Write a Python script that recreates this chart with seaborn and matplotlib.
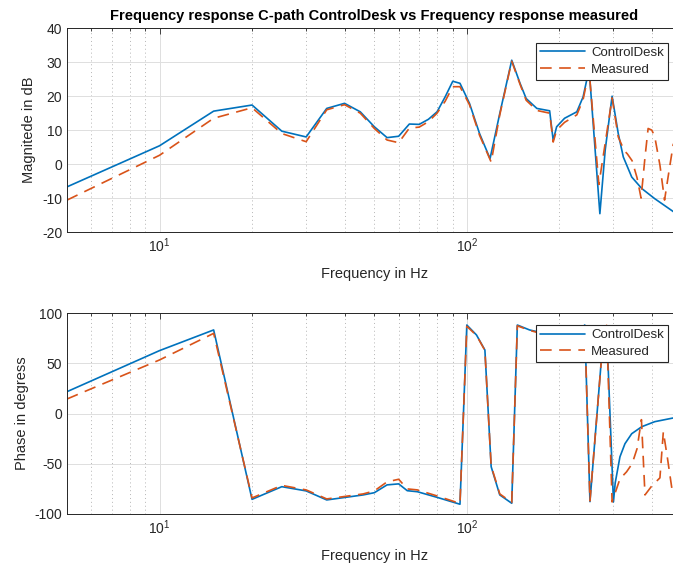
import numpy as np
import pandas as pd
import seaborn as sns
import matplotlib.pyplot as plt
from matplotlib.ticker import LogLocator, NullFormatter, FixedLocator

# values (frequency in Hz)
freq_cd_mag = [5, 10, 15, 20, 25, 30, 35, 40, 45, 50, 55, 60, 65, 70, 75, 80, 85, 90, 95,
               102, 110, 119, 128, 140, 149, 156, 169, 186, 191, 196, 208, 228, 239, 250,
               271, 282, 297, 311, 323, 344, 371, 409, 470]
mag_cd = [-6.7, 5.4, 15.6, 17.4, 9.7, 8.0, 16.4, 17.9, 15.4, 11.0, 7.8, 8.2, 11.8, 11.7, 13.2,
          15.4, 19.8, 24.4, 23.8, 17.9, 9.0, 1.6, 14.9, 30.6, 23.8, 19.3, 16.4, 15.7, 7.0,
          11.0, 13.5, 15.4, 19.8, 28.0, -14.6, 4.1, 20.0, 9.0, 2.1, -3.8, -7.2, -10.2, -14.0]

freq_me_mag = [5, 10, 15, 20, 25, 30, 35, 40, 45, 50, 55, 60, 65, 70, 75, 80, 85, 90, 95,
               102, 110, 120, 128, 140, 149, 156, 169, 186, 191, 196, 208, 228, 239, 250,
               269, 297, 311, 318, 325, 333, 345, 358, 369, 380, 389, 400, 409, 425, 440,
               455, 470]
mag_me = [-10.6, 2.6, 13.5, 16.6, 9.0, 6.6, 16.0, 17.5, 15.0, 10.5, 7.1, 6.3, 10.6, 10.9, 12.5,
          15.0, 18.5, 22.8, 22.8, 17.5, 8.5, 0.6, 14.5, 30.3, 23.5, 18.8, 15.8, 15.0, 6.5,
          10.0, 12.3, 14.5, 19.0, 27.5, -6.0, 19.5, 8.0, 6.0, 4.0, 3.0, 1.0, -4.0, -10.0,
          2.0, 10.5, 10.0, 8.0, -0.3, -10.6, -2.0, 6.0]

freq_cd_ph = [5, 10, 15, 20, 25, 30, 35, 46, 50, 55, 60, 64, 69, 80, 95, 100, 107.5, 114.5,
              120, 128, 140, 146, 160, 169, 200, 230, 242, 251.6, 274, 285, 300, 304, 315,
              327, 344, 371, 409, 470]
ph_cd = [21.9, 62.8, 83.4, -85.4, -72.8, -77.0, -86.0, -81.0, -78.8, -71.0, -70.0, -76.8,
         -77.8, -83.4, -90.3, 88.3, 78.4, 63.4, -52.9, -81.0, -89.3, 88.3, 83.4, 81.7, 78.0,
         82.0, 88.3, -87.7, 53.5, 86.0, -88.0, -69.0, -43.0, -30.0, -20.0, -13.0, -8.0, -4.3]

freq_me_ph = [5, 10, 15, 20, 25, 30, 35, 46, 50, 55, 60, 64, 69, 80, 95, 100, 107.5, 114.5,
              120, 128, 140, 146, 160, 169, 200, 230, 242, 251.6, 274, 285, 297, 315, 331,
              345, 358, 370, 380, 400, 425, 436, 450, 465]
ph_me = [14.6, 53.5, 80.0, -84.0, -71.5, -76.0, -85.0, -80.0, -77.0, -68.0, -65.4, -75.0,
         -76.0, -82.0, -89.5, 87.0, 78.0, 63.0, -52.0, -80.0, -88.5, 87.5, 83.0, 81.0, 78.0,
         82.0, 87.0, -87.0, 53.0, 88.0, -88.0, -65.0, -58.0, -50.0, -35.0, -6.0, -81.0,
         -72.0, -64.0, -18.0, -45.0, -75.0]

series_names = ['ControlDesk', 'Measured']

mag_df = pd.concat([
    pd.DataFrame({'freq': freq_cd_mag, 'value': mag_cd, 'series': 'ControlDesk'}),
    pd.DataFrame({'freq': freq_me_mag, 'value': mag_me, 'series': 'Measured'}),
])
ph_df = pd.concat([
    pd.DataFrame({'freq': freq_cd_ph, 'value': ph_cd, 'series': 'ControlDesk'}),
    pd.DataFrame({'freq': freq_me_ph, 'value': ph_me, 'series': 'Measured'}),
])

sns.set_style('white')
plt.rcParams['font.family'] = ['Liberation Sans', 'DejaVu Sans']
plt.rcParams['mathtext.fontset'] = 'custom'
plt.rcParams['mathtext.rm'] = 'Liberation Sans'
plt.rcParams['axes.unicode_minus'] = False

palette = {'ControlDesk': '#0072BD', 'Measured': '#D95319'}
dashes = {'ControlDesk': '', 'Measured': (7, 4.5)}
txt = '#262626'

fig = plt.figure(figsize=(6.73, 5.66), dpi=100)
ax1 = fig.add_axes([0.0996, 0.5901, 0.9132, 0.3599])
ax2 = fig.add_axes([0.0996, 0.0919, 0.9132, 0.3546])


def style_axis(ax, yticks, ylabel, legend_top):
    ax.set_xscale('log')
    ax.set_xlim(5, 500)
    ax.set_ylim(yticks[0], yticks[-1])
    ax.yaxis.set_major_locator(FixedLocator(yticks))
    ax.xaxis.set_major_locator(LogLocator(base=10))
    ax.xaxis.set_minor_locator(LogLocator(base=10, subs=np.arange(2, 10)))
    ax.xaxis.set_minor_formatter(NullFormatter())
    ax.grid(True, which='major', color='#dedede', lw=0.7, ls='-')
    ax.grid(True, which='minor', axis='x', color='#b5b5b5', lw=0.7, ls=(0, (1, 3)))
    ax.set_axisbelow(True)
    ax.tick_params(which='both', direction='in', top=True, right=False,
                   labelsize=10, colors=txt, width=0.6)
    ax.tick_params(which='major', length=4)
    ax.tick_params(which='minor', length=2.5)
    for s in ax.spines.values():
        s.set_color('#262626')
        s.set_linewidth(0.7)
    ax.set_xlabel('Frequency in Hz', fontsize=10.5, color=txt, labelpad=8)
    ax.set_ylabel(ylabel, fontsize=10.5, color=txt, labelpad=4)
    handles, labels = ax.get_legend_handles_labels()
    leg = ax.legend(handles, labels, loc='upper right',
                    bbox_to_anchor=(668 / 673, legend_top), bbox_transform=fig.transFigure,
                    borderaxespad=0, fontsize=9.5, frameon=True, fancybox=False,
                    framealpha=1, edgecolor='#262626', handlelength=3.4,
                    borderpad=0.3, labelspacing=0.35, handletextpad=0.5)
    leg.get_frame().set_linewidth(0.8)


sns.lineplot(data=mag_df, x='freq', y='value', hue='series', style='series',
             hue_order=series_names, style_order=series_names, palette=palette,
             dashes=dashes, estimator=None, linewidth=1.2, ax=ax1)
sns.lineplot(data=ph_df, x='freq', y='value', hue='series', style='series',
             hue_order=series_names, style_order=series_names, palette=palette,
             dashes=dashes, estimator=None, linewidth=1.2, ax=ax2)

style_axis(ax1, [-20, -10, 0, 10, 20, 30, 40], 'Magnitede in dB', 1 - 42.5 / 566)
style_axis(ax2, [-100, -50, 0, 50, 100], 'Phase in degress', 1 - 325 / 566)

ax1.set_title('Frequency response C-path ControlDesk vs Frequency response measured',
              fontsize=10.5, fontweight='bold', color='black', pad=6)

fig.savefig('out.png', dpi=100)
